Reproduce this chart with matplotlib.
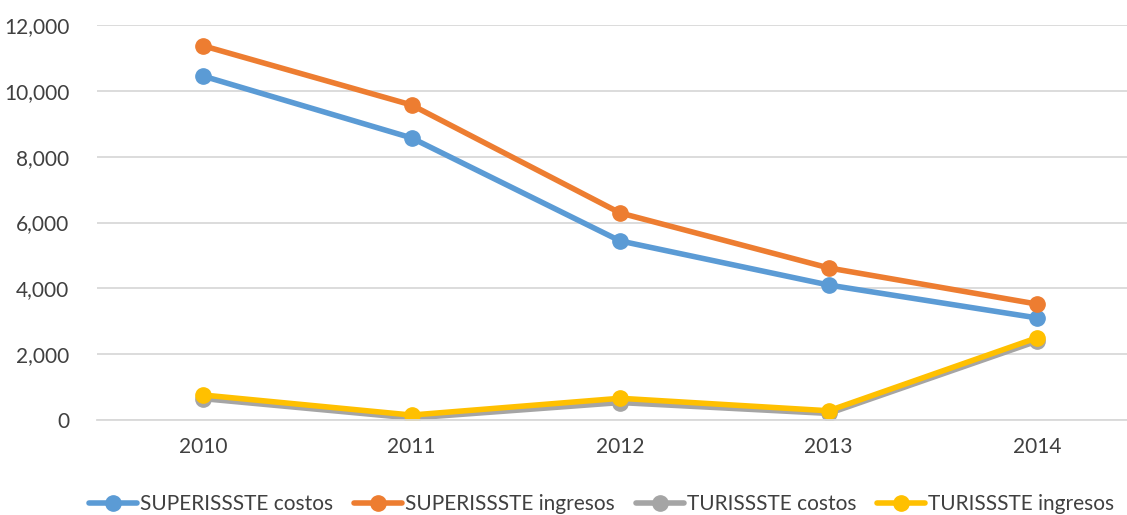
import numpy as np
import matplotlib.pyplot as plt
from matplotlib.ticker import FuncFormatter

# datos
years = ['2010', '2011', '2012', '2013', '2014']
super_costos = [10450, 8570, 5440, 4100, 3100]
super_ingresos = [11370, 9570, 6290, 4620, 3520]
turi_costos = [650, 60, 530, 200, 2400]
turi_ingresos = [760, 150, 660, 280, 2500]

series = [
    ('SUPERISSSTE costos', super_costos, '#5b9bd5'),
    ('SUPERISSSTE ingresos', super_ingresos, '#ed7d31'),
    ('TURISSSTE costos', turi_costos, '#a5a5a5'),
    ('TURISSSTE ingresos', turi_ingresos, '#ffc000'),
]

plt.rcParams['font.family'] = ['Lato', 'DejaVu Sans']

fig = plt.figure(figsize=(11.27, 5.15), dpi=100)
ax = fig.add_axes([97/1127, 1 - 420/515, (1127 - 97)/1127, (420 - 25)/515])

x = np.arange(len(years))
for name, vals, col in series:
    ax.plot(x, vals, '-o', color=col, lw=4, ms=11, label=name, solid_capstyle='round')

ax.set_xlim(-0.508, 4.43)
ax.set_ylim(0, 12000)
ax.set_yticks(np.arange(0, 12001, 2000))
ax.yaxis.set_major_formatter(FuncFormatter(lambda v, p: '{:,.0f}'.format(v)))
ax.set_xticks(x)
ax.set_xticklabels(years)

ax.grid(axis='y', color='#d9d9d9', lw=1.3)
ax.set_axisbelow(True)
for s in ['top', 'right', 'left']:
    ax.spines[s].set_visible(False)
ax.spines['bottom'].set_color('#d9d9d9')
ax.spines['bottom'].set_linewidth(1.3)
ax.tick_params(length=0, labelsize=15, colors='#404040', pad=12)
ax.tick_params(axis='y', pad=20)

fig.legend(loc='lower center', bbox_to_anchor=(0.534, -0.035), ncol=4, frameon=False,
           fontsize=15, handlelength=2.3, columnspacing=1.0, handletextpad=0.15,
           labelcolor='#404040')

fig.savefig('out.png', dpi=100)
